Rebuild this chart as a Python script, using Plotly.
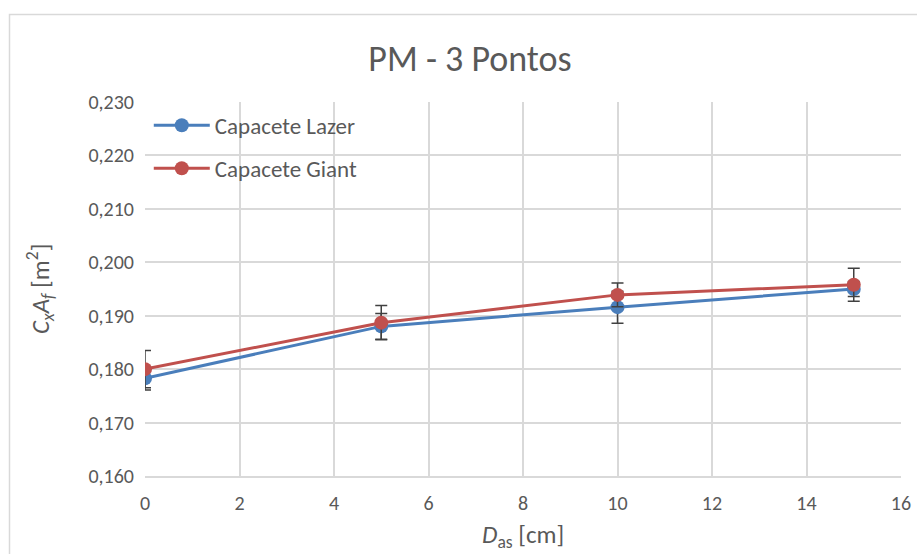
import plotly.graph_objects as go

# Distance (cm) and drag area CxAf (m²) for the two helmets
distancia = [0, 5, 10, 15]
lazer = [0.1783, 0.1880, 0.1916, 0.1950]
lazer_err = [0.0022, 0.0024, 0.0030, 0.0014]
giant = [0.1800, 0.1887, 0.1939, 0.1958]
giant_err = [0.0035, 0.0032, 0.0022, 0.0031]

x_ticks = [0, 2, 4, 6, 8, 10, 12, 14, 16]
y_ticks = [0.160, 0.170, 0.180, 0.190, 0.200, 0.210, 0.220, 0.230]
y_labels = [f"{v:.3f}".replace(".", ",") for v in y_ticks]

FONT = "Calibri, Carlito, Lato, 'Open Sans', sans-serif"
TXT = "#595959"
GRID = "#d9d9d9"

fig = go.Figure()
for i, (name, vals, err, color) in enumerate([
    ("Capacete Lazer", lazer, lazer_err, "#4a7ebb"),
    ("Capacete Giant", giant, giant_err, "#c0504d"),
]):
    fig.add_trace(go.Scatter(
        x=distancia, y=vals, name=name, mode="lines+markers",
        legendgroup=f"g{i}",
        line=dict(color=color, width=3),
        marker=dict(size=14, color=color),
        error_y=dict(type="data", array=err, visible=True,
                     color="#404040", thickness=1.5, width=6),
    ))

fig.update_layout(
    width=917, height=554,
    margin=dict(l=145, r=16, t=102, b=78),
    paper_bgcolor="white", plot_bgcolor="white",
    font=dict(family=FONT, color=TXT, size=20),
    title=dict(text="PM - 3 Pontos", x=470 / 917, xanchor="center",
               y=1 - 58 / 554, yanchor="middle",
               font=dict(size=36, color=TXT, family=FONT)),
    showlegend=True,
    legend=dict(x=0.005, y=0.995, xanchor="left", yanchor="top",
                bgcolor="rgba(255,255,255,0)", font=dict(size=23, color=TXT),
                traceorder="grouped", tracegroupgap=10, itemwidth=56),
    xaxis=dict(range=[0, 16], tickvals=x_ticks, ticktext=[str(v) for v in x_ticks],
               showgrid=True, gridcolor=GRID, gridwidth=1.5, zeroline=False,
               showline=True, linecolor=GRID, linewidth=1.5, mirror=False,
               ticks="", ticklabelstandoff=8, automargin=False),
    yaxis=dict(range=[0.160, 0.230], tickvals=y_ticks, ticktext=y_labels,
               showgrid=True, gridcolor=GRID, gridwidth=1.5, zeroline=False,
               showline=False, ticks="", ticklabelstandoff=10, automargin=False),
    annotations=[
        dict(text="<i>D</i><sub>as</sub> [cm]", xref="paper", yref="paper",
             x=0.5, y=0, xanchor="center", yanchor="middle", yshift=-60,
             showarrow=False, font=dict(size=25, color=TXT)),
        dict(text="<i>C</i><sub><i>x</i></sub><i>A</i><sub><i>f</i></sub> [m<sup>2</sup>]",
             xref="paper", yref="paper", x=0, y=0.5, xanchor="center",
             yanchor="middle", xshift=-105, textangle=-90,
             showarrow=False, font=dict(size=25, color=TXT)),
    ],
    shapes=[dict(type="rect", xref="paper", yref="paper",
                 x0=-(145 - 9.5) / 756, x1=1 + 40 / 756,
                 y0=-0.5, y1=1 + (102 - 14.5) / 374,
                 line=dict(color="#d9d9d9", width=1.5), fillcolor="rgba(0,0,0,0)",
                 layer="below")],
)

fig.write_html("out.html")
